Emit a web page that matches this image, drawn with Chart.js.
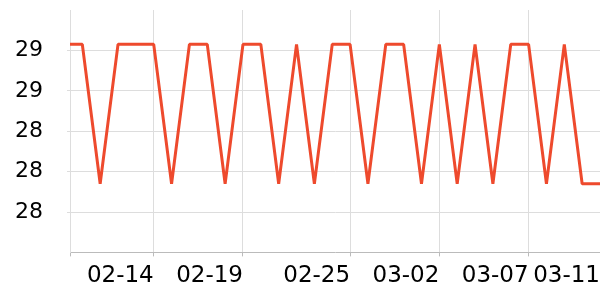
<!DOCTYPE html>
<html>
<head>
<meta charset="utf-8">
<script src="https://cdn.jsdelivr.net/npm/chart.js@4"></script>
<style>
  html, body { margin: 0; padding: 0; background: #fff; }
  #wrap { width: 600px; height: 300px; }
</style>
</head>
<body>
<div id="wrap"><canvas id="chart"></canvas></div>
<script>
// daily readings, 02-09 .. 03-11
const dates = ['02-09','02-10','02-11','02-12','02-13','02-14','02-15','02-16','02-17','02-18',
               '02-19','02-20','02-21','02-22','02-23','02-24','02-25','02-26','02-27','02-28',
               '03-01','03-02','03-03','03-04','03-05','03-06','03-07','03-08','03-09','03-10','03-11'];
const values = [28.83, 28.83, 28.14, 28.83, 28.83, 28.83, 28.14, 28.83, 28.83, 28.14,
                28.83, 28.83, 28.14, 28.83, 28.14, 28.83, 28.83, 28.14, 28.83, 28.83,
                28.14, 28.83, 28.14, 28.83, 28.14, 28.83, 28.83, 28.14, 28.83, 28.14, 28.14];
const xTickLabels = ['02-14', '02-19', '02-25', '03-02', '03-07', '03-11'];
const yTicks = [28.0, 28.2, 28.4, 28.6, 28.8];

const FONT = 'DejaVu Sans';
const xMin = 0.31;

// no automatic edge padding from the tick labels
function noPad(scale) {
  scale.paddingLeft = 0;
  scale.paddingRight = 0;
  scale.paddingTop = 0;
  scale.paddingBottom = 0;
}

new Chart(document.getElementById('chart'), {
  type: 'line',
  data: {
    datasets: [{
      data: values.map((v, i) => ({ x: i, y: v })),
      borderColor: '#ee4a2d',
      borderWidth: 3,
      borderJoinStyle: 'bevel',
      pointRadius: 0,
      tension: 0,
      fill: false
    }]
  },
  options: {
    responsive: true,
    maintainAspectRatio: false,
    animation: false,
    layout: { padding: { left: 15, right: 0, top: 10, bottom: 4 } },
    plugins: { legend: { display: false }, tooltip: { enabled: false } },
    scales: {
      x: {
        type: 'linear',
        min: xMin,
        max: dates.length - 1,
        afterBuildTicks: (scale) => {
          scale.ticks = [{ value: xMin }].concat(xTickLabels.map(l => ({ value: dates.indexOf(l) })));
        },
        afterFit: noPad,
        ticks: {
          autoSkip: false,
          maxRotation: 0,
          align: 'end',
          padding: 6,
          color: '#000',
          font: { family: FONT, size: 23 },
          callback: (v) => {
            const l = dates[v];
            return xTickLabels.includes(l) ? l : '';
          }
        },
        grid: { color: '#dddddd', tickLength: 4, tickColor: '#bbbbbb' },
        border: { color: '#bbbbbb', width: 1 }
      },
      y: {
        min: 27.8,
        max: 29.0,
        afterBuildTicks: (scale) => {
          scale.ticks = yTicks.map(v => ({ value: v }));
        },
        afterFit: (scale) => {
          noPad(scale);
          scale.width = 55;
        },
        ticks: {
          padding: 24,
          color: '#000',
          font: { family: FONT, size: 22 },
          callback: (v) => Math.round(v).toString()
        },
        grid: { color: '#dddddd', tickLength: 3 },
        border: { color: '#dddddd' }
      }
    }
  }
});
</script>
</body>
</html>
